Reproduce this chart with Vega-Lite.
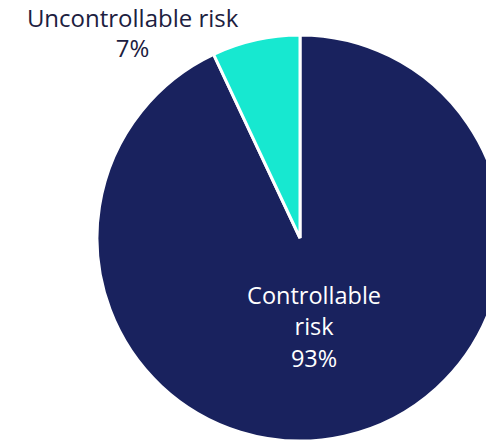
{
  "$schema": "https://vega.github.io/schema/vega-lite/v6.json",
  "autosize": "none",
  "width": 372,
  "height": 476,
  "padding": {"left": 114, "top": 0, "right": 0, "bottom": 0},
  "background": "white",
  "config": {"view": {"stroke": null}, "font": "Open Sans"},
  "data": {
    "values": [
      {"category": "Controllable risk", "value": 93, "label": ["Controllable", "risk", "93%"]},
      {"category": "Uncontrollable risk", "value": 7, "label": ["Uncontrollable risk", "7%"]}
    ]
  },
  "encoding": {
    "theta": {"field": "value", "type": "quantitative", "stack": true},
    "order": {"field": "category", "sort": "ascending"}
  },
  "layer": [
    {
      "mark": {"type": "arc", "radius": 203, "stroke": "white", "strokeWidth": 3},
      "encoding": {
        "color": {
          "field": "category",
          "type": "nominal",
          "scale": {"domain": ["Controllable risk", "Uncontrollable risk"], "range": ["#19225e", "#17e8d0"]},
          "legend": null
        }
      }
    },
    {
      "mark": {"type": "text", "radius": 92, "dx": -6, "dy": -31, "fontSize": 23.5, "lineHeight": 31.5, "color": "white", "align": "center", "baseline": "middle"},
      "encoding": {
        "text": {
          "condition": {"test": "datum.category === 'Controllable risk'", "field": "label"},
          "value": ""
        }
      }
    },
    {
      "mark": {"type": "text", "radius": 208, "dx": -122, "dy": -15, "fontSize": 24, "lineHeight": 30, "color": "#1c2040", "align": "center", "baseline": "middle"},
      "encoding": {
        "text": {
          "condition": {"test": "datum.category === 'Uncontrollable risk'", "field": "label"},
          "value": ""
        }
      }
    }
  ]
}
